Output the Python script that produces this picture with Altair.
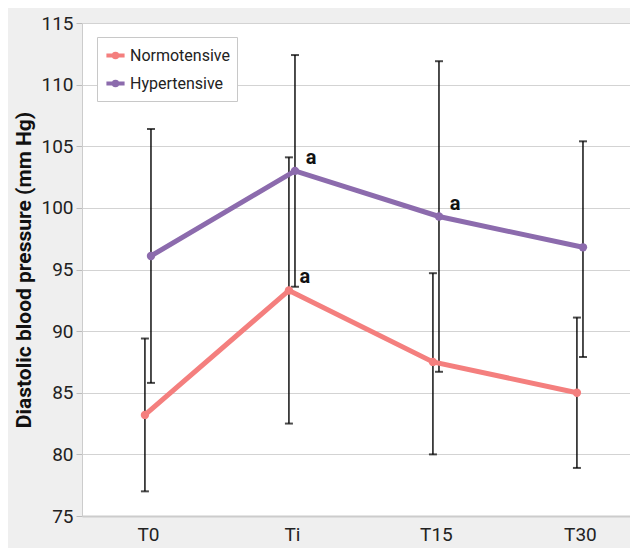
import altair as alt
import pandas as pd

times = ["T0", "Ti", "T15", "T30"]
groups = ["Normotensive", "Hypertensive"]

normo_mean = [83.2, 93.3, 87.5, 85.0]
normo_lo = [77.0, 82.5, 80.0, 78.9]
normo_hi = [89.4, 104.1, 94.7, 91.1]

hyper_mean = [96.1, 103.0, 99.3, 96.8]
hyper_lo = [85.8, 93.6, 86.7, 87.9]
hyper_hi = [106.4, 112.4, 111.9, 105.4]

normo_sig = ["", "a", "", ""]
hyper_sig = ["", "a", "a", ""]

colors = ["#F47F7E", "#8C6BAD"]
offset = {"Normotensive": -0.021, "Hypertensive": 0.021}

rows = []
for g, m, lo, hi, sig in [
    ("Normotensive", normo_mean, normo_lo, normo_hi, normo_sig),
    ("Hypertensive", hyper_mean, hyper_lo, hyper_hi, hyper_sig),
]:
    for i, t in enumerate(times):
        rows.append({"group": g, "time": t, "xi": i + offset[g],
                     "mean": m[i], "lo": lo[i], "hi": hi[i], "sig": sig[i]})
df = pd.DataFrame(rows)

FONT = "Roboto"
label_expr = "[" + ",".join(f"'{t}'" for t in times) + "][datum.value]"

x = alt.X("xi:Q",
          scale=alt.Scale(domain=[-0.458, -0.458 + 548 / 144], nice=False, zero=False),
          axis=alt.Axis(values=[0, 1, 2, 3], labelExpr=label_expr, title=None,
                        grid=False, ticks=False, labelPadding=9, labelFontSize=19,
                        labelFont=FONT, labelColor="#222222", domainColor="#cccccc",
                        domainWidth=2))
y_scale = alt.Scale(domain=[75, 115], nice=False, zero=False)
y_axis = alt.Axis(values=list(range(75, 116, 5)), title="Diastolic blood pressure (mm Hg)",
                  titleFont=FONT, titleFontSize=21, titleFontWeight="bold",
                  titleColor="#111111", titlePadding=6,
                  labelFont=FONT, labelFontSize=19, labelColor="#222222",
                  gridColor="#d3d3d3", domainColor="#cccccc", tickColor="#bbbbbb",
                  tickSize=6, labelPadding=3)

color = alt.Color("group:N", scale=alt.Scale(domain=groups, range=colors),
                  legend=alt.Legend(title=None, orient="none", legendX=15, legendY=14,
                                    fillColor="white", strokeColor="#c8c8c8",
                                    padding=7, labelFont=FONT, labelFontSize=16,
                                    labelColor="#222222", rowPadding=6,
                                    symbolType="M-1,0L1,0M-0.2,0A0.2,0.2 0 1,1 0.2,0A0.2,0.2 0 1,1 -0.2,0",
                                    symbolSize=330, symbolStrokeWidth=4, labelOffset=3))

base = alt.Chart(df)

rule = base.mark_rule(color="black", strokeWidth=1.4).encode(
    x=x, y=alt.Y("lo:Q", scale=y_scale, axis=y_axis), y2="hi:Q")
cap_lo = base.mark_tick(color="black", orient="horizontal", thickness=2, size=8).encode(
    x=x, y=alt.Y("lo:Q", scale=y_scale))
cap_hi = base.mark_tick(color="black", orient="horizontal", thickness=2, size=8).encode(
    x=x, y=alt.Y("hi:Q", scale=y_scale))
line = base.mark_line(strokeWidth=5).encode(
    x=x, y=alt.Y("mean:Q", scale=y_scale), color=color, detail="group:N")
pts = base.mark_point(filled=True, size=70, opacity=1).encode(
    x=x, y=alt.Y("mean:Q", scale=y_scale),
    color=alt.Color("group:N", scale=alt.Scale(domain=groups, range=colors), legend=None))
txt = base.mark_text(font=FONT, fontSize=20, fontWeight="bold", color="#111111",
                     dx=16, dy=-13).encode(
    x=x, y=alt.Y("mean:Q", scale=y_scale), text="sig:N")

chart = alt.layer(rule, cap_lo, cap_hi, line, pts, txt).properties(
    width=548, height=493,
    autosize=alt.AutoSizeParams(type="none"),
    padding={"left": 74, "top": 15, "right": 0, "bottom": 32},
    background="#efefef",
).configure_view(fill="white", stroke=None)

chart.save("out.html", embed_options={"renderer": "svg", "actions": False})
